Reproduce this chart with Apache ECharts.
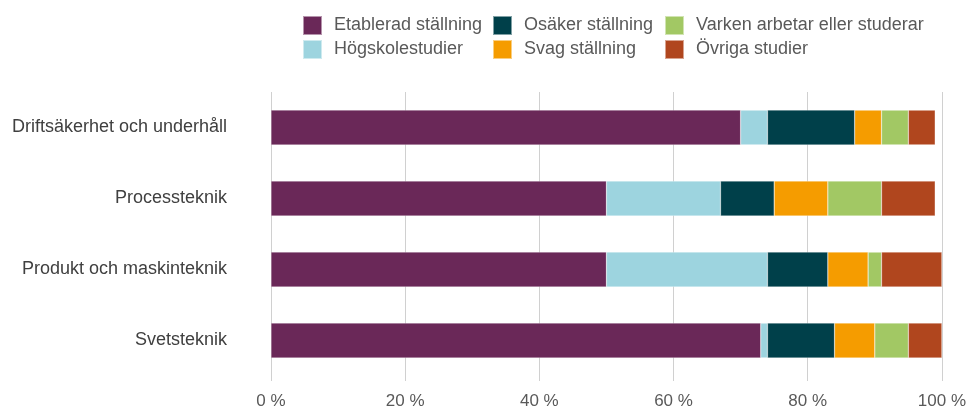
<!DOCTYPE html>
<html><head><meta charset="utf-8">
<script src="https://cdn.jsdelivr.net/npm/echarts@6/dist/echarts.min.js"></script>
<style>html,body{margin:0;padding:0;background:#fff}#c{width:969px;height:410px}</style>
</head><body><div id="c"></div>
<script>
const categories = ['Driftsäkerhet och underhåll', 'Processteknik', 'Produkt och maskinteknik', 'Svetsteknik'];
const seriesNames = ['Etablerad ställning', 'Högskolestudier', 'Osäker ställning', 'Svag ställning', 'Varken arbetar eller studerar', 'Övriga studier'];
const etablerad = [70, 50, 50, 73];
const hogskole = [4, 17, 24, 1];
const osaker = [13, 8, 9, 10];
const svag = [4, 8, 6, 6];
const varken = [4, 8, 2, 5];
const ovriga = [4, 8, 9, 5];
const xTicks = [0, 20, 40, 60, 80, 100];
const colors = ['#6a2858', '#9dd4df', '#00404a', '#f59c00', '#a2c864', '#b0461e'];
const values = [etablerad, hogskole, osaker, svag, varken, ovriga];

const chart = echarts.init(document.getElementById('c'));
const font = 'Liberation Sans, Arial, sans-serif';
const legendBase = {orient: 'vertical', top: 10, itemWidth: 19, itemHeight: 19, itemGap: 3, icon: 'rect',
  textStyle: {fontFamily: font, fontSize: 18, color: '#595959', padding: [0, 0, 0, 7]}, selectedMode: false};
chart.setOption({
  animation: false,
  color: colors,
  legend: [
    Object.assign({}, legendBase, {left: 297, data: [seriesNames[0], seriesNames[1]]}),
    Object.assign({}, legendBase, {left: 487, data: [seriesNames[2], seriesNames[3]]}),
    Object.assign({}, legendBase, {left: 659, data: [seriesNames[4], seriesNames[5]]})
  ],
  grid: {left: 271, right: 26, top: 92, bottom: 32, containLabel: false},
  xAxis: {
    type: 'value', min: 0, max: 100, interval: 20,
    axisLine: {show: false},
    axisTick: {show: true, length: 5, lineStyle: {color: '#d0d0d0'}},
    splitLine: {lineStyle: {color: '#d0d0d0', width: 1}},
    axisLabel: {fontFamily: font, fontSize: 17, color: '#595959', margin: 17,
      formatter: v => xTicks.includes(v) ? v + ' %' : ''}
  },
  yAxis: {
    type: 'category', data: categories, inverse: true,
    axisLine: {show: false}, axisTick: {show: false},
    axisLabel: {fontFamily: font, fontSize: 18, color: '#404040', margin: 44}
  },
  series: seriesNames.map((n, i) => ({
    name: n, type: 'bar', stack: 'total', data: values[i], barWidth: '49%',
    itemStyle: {borderColor: 'rgba(255,255,255,0.5)', borderWidth: 0.5}
  }))
});
</script></body></html>
